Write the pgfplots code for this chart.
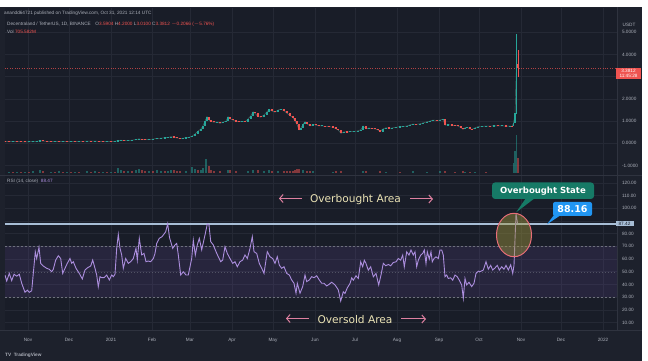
\documentclass[border=0pt]{standalone}
\usepackage{fontspec}
\setmainfont{Liberation Sans}
\newfontfamily\dvs{DejaVu Sans}
\usepackage{pgfplots}
\usepackage{pgfplotstable}
\pgfplotsset{compat=1.18}
\usetikzlibrary{arrows.meta}

\definecolor{bg}{RGB}{25,29,40}
\definecolor{frame}{RGB}{29,33,44}
\definecolor{gridc}{RGB}{37,41,53}
\definecolor{sep}{RGB}{47,51,63}
\definecolor{lbl}{RGB}{170,174,184}
\definecolor{up}{RGB}{38,166,154}
\definecolor{down}{RGB}{239,83,80}
\definecolor{rsiline}{RGB}{172,142,222}
\definecolor{band}{RGB}{126,87,194}
\definecolor{hl}{RGB}{168,190,214}
\definecolor{cream}{RGB}{236,228,182}
\definecolor{pinkarrow}{RGB}{222,128,160}
\definecolor{stateteal}{RGB}{22,122,102}
\definecolor{bluebox}{RGB}{33,150,243}
\definecolor{ellred}{RGB}{232,110,120}
\definecolor{olivefill}{RGB}{160,150,60}
\definecolor{dashc}{RGB}{110,113,125}

\newcommand{\sm}{\fontsize{4.7}{5.3}\selectfont}

\pgfplotstableread{
x o c
5 0.075 0.075
9 0.075 0.070
13 0.070 0.080
17 0.080 0.074
21 0.074 0.070
25 0.070 0.065
29 0.065 0.068
33 0.068 0.075
37 0.075 0.090
40 0.090 0.120
43 0.120 0.100
47 0.100 0.090
51 0.090 0.085
55 0.085 0.092
59 0.092 0.086
63 0.086 0.090
67 0.090 0.084
71 0.084 0.090
75 0.090 0.086
79 0.086 0.092
83 0.092 0.090
87 0.090 0.100
91 0.100 0.095
95 0.095 0.100
99 0.100 0.088
103 0.088 0.085
107 0.085 0.090
111 0.090 0.084
115 0.084 0.090
118 0.090 0.120
121 0.120 0.140
124 0.140 0.120
128 0.120 0.130
132 0.130 0.140
136 0.140 0.170
139 0.170 0.200
142 0.200 0.170
145 0.170 0.165
149 0.165 0.170
153 0.170 0.190
157 0.190 0.220
161 0.220 0.230
165 0.230 0.250
168 0.250 0.260
171 0.260 0.300
174 0.300 0.270
177 0.270 0.240
180 0.240 0.220
183 0.220 0.230
186 0.230 0.250
189 0.250 0.270
192 0.270 0.320
195 0.320 0.420
198 0.420 0.550
201 0.550 0.650
203 0.650 0.800
205 0.800 1.000
207 1.000 1.200
209 1.200 1.050
211 1.050 0.980
214 0.980 0.950
217 0.950 0.960
220 0.960 0.900
223 0.900 0.950
226 0.950 1.000
228 1.000 1.200
230 1.200 1.100
233 1.100 1.050
236 1.050 0.980
239 0.980 0.970
242 0.970 0.990
245 0.990 0.970
248 0.970 1.100
251 1.100 1.250
253 1.250 1.420
255 1.420 1.350
258 1.350 1.200
261 1.200 1.180
264 1.180 1.280
267 1.280 1.420
269 1.420 1.530
272 1.530 1.450
275 1.450 1.400
278 1.400 1.500
281 1.500 1.530
284 1.530 1.470
287 1.470 1.350
290 1.350 1.250
293 1.250 1.150
295 1.150 1.000
297 1.000 0.850
299 0.850 0.600
301 0.600 0.700
303 0.700 0.850
305 0.850 0.970
307 0.970 0.880
310 0.880 0.780
313 0.780 0.850
316 0.850 0.820
319 0.820 0.780
322 0.780 0.790
325 0.790 0.760
329 0.760 0.750
333 0.750 0.720
336 0.720 0.650
338 0.650 0.600
341 0.600 0.450
344 0.450 0.520
347 0.520 0.500
350 0.500 0.530
354 0.530 0.540
358 0.540 0.560
361 0.560 0.620
363 0.620 0.780
366 0.780 0.650
369 0.650 0.690
372 0.690 0.660
375 0.660 0.650
378 0.650 0.600
380 0.600 0.530
383 0.530 0.650
386 0.650 0.700
389 0.700 0.680
392 0.680 0.690
396 0.690 0.720
400 0.720 0.750
403 0.750 0.760
407 0.760 0.780
410 0.780 0.830
413 0.830 0.870
416 0.870 0.850
420 0.850 0.880
423 0.880 0.920
427 0.920 0.970
430 0.970 1.000
433 1.000 1.050
437 1.050 1.030
440 1.030 1.050
443 1.050 1.080
445 1.080 0.820
448 0.820 0.830
452 0.830 0.820
455 0.820 0.800
458 0.800 0.780
461 0.780 0.700
463 0.700 0.630
465 0.630 0.700
467 0.700 0.720
470 0.720 0.650
472 0.650 0.630
475 0.630 0.700
478 0.700 0.750
482 0.750 0.760
486 0.760 0.780
490 0.780 0.770
494 0.770 0.790
498 0.790 0.780
502 0.780 0.790
506 0.790 0.770
510 0.770 0.780
512 0.780 0.760
513.5 0.760 0.900
515 0.900 1.350
516.5 1.350 3.600
518 3.590 3.381
}\price

\pgfplotstableread{
x r
5 47.4
6.7 42.7
9.3 48.7
11.7 43
14 48
16.7 46.5
19.3 48
21.7 40.9
25 33.8
27.3 35.5
29.3 33.8
31.7 35
33.3 48.7
35.3 65.7
36.7 60.4
39 69.2
40.7 56.6
43.3 54.5
46.7 52.7
49.3 51.9
51.7 50
53.3 51.9
55.7 59.2
58.3 62.6
60.7 60.4
62.7 48.7
65 52.7
67.3 56.6
70 60.4
71.7 56.6
73.3 57.9
76 52.7
79.3 48.7
82.3 44.3
85 51.4
87.7 53.2
90.7 54.5
92.7 59.2
95 52.7
96.7 47.4
98.3 38.2
100 46.1
101.7 45.3
104 45.3
106.7 47.4
109.3 43.5
111.7 47.4
113.3 46.1
115 48
116.7 68.4
118.3 79.4
120 68.4
121.7 63.2
123.3 52.7
125.7 60.4
128.3 56.6
130.7 57.9
133.3 60.4
136 68.4
137.3 59.2
139.3 76.3
141.7 63.2
144 64.4
146 57.9
148.3 58.4
150.7 57.9
153.3 60.4
155 64.4
156.7 72.3
159.3 76.3
162 77.6
165.7 81.5
167.7 87.8
169.5 77
172.7 68.4
175 71.1
176.7 72.3
178.3 63.2
180.7 47.4
183.3 50
186 47.4
188.3 47.4
191.7 60.4
193.3 74.9
195.3 63.2
197.3 71.1
199.3 76.3
201.7 67.2
205 78.9
207.3 87.6
209 86.8
210.7 73.7
213.3 71.1
216 65.8
218.3 61.8
220.7 57.9
222.7 59.2
225 69.7
227.3 64.4
230 60.4
232.7 56.6
235 57.9
237.3 53.9
240 57.9
242.7 59.2
245 63.2
247.3 60.4
250 68.4
252.3 77.6
254 65.8
256.7 64.4
259.3 56.6
261.7 52.7
264 48.7
266 59.2
267.3 65.8
270 61.8
272.7 60.4
275 56.6
277.3 61.8
279.3 55.2
281.7 52.7
284 53.9
286.7 48.7
289.3 47.4
291.7 43.5
294 40.9
296 33.1
297.3 40.9
300 33.1
302.7 38.3
305 47.4
306.7 42.2
309.3 43.5
311.7 46.1
314 45.3
316.7 46.8
319.3 43.5
321.7 40.9
324 40.9
326.7 38.8
328.3 39.6
331.7 41.7
335 39.6
338.3 35.7
340.7 26.9
343.3 34.2
345 32.9
347.3 37.3
350 40.7
351.7 45.2
353.3 43.3
356 46.8
358.3 44.7
360.7 57.8
362.7 53.9
364.3 59.1
366 56.5
368.3 51.2
370.7 53.9
373.3 46
376 48.7
378.7 39.6
381 47.4
383.3 56.6
385.7 54.7
388.3 55.7
390.7 54.7
393.3 57.3
396 57.8
398.3 60.4
400.7 59.1
402.7 63.1
404.3 53.9
406.7 65.7
409 63.1
411 67.1
413.3 63.1
415 65.7
416.7 53.9
418.3 59.1
420.7 63.1
422.7 64.4
424.3 67.1
426 56.5
427.3 65.7
429.3 60
431 65.7
432.3 57.8
434 60.4
436 61.7
438.3 60.4
440 67.1
441.7 67.1
443.3 63.1
445 46
446.7 47.4
448.3 44.7
450.7 45.2
452.7 43.3
455 47.4
457.3 46
459.3 43.3
461.7 39.6
463.3 29.1
465 44.7
466.7 39.6
469 41.7
471.7 38.3
474 40.9
476 48.7
478.3 50.5
480 50
483.3 51.3
486 57.9
488.3 52
490.7 55
492.7 51.3
495 53
497.3 55
499.3 51.3
501.7 53.9
504 52
506 55
508.3 51.3
510.7 55.5
512.7 48.7
514 55
516 95.6
517.5 88.2
}\rsi

\begin{document}
\begin{tikzpicture}[x=1pt,y=1pt]
\fill[white] (0,0) rectangle (648,361);
\fill[frame] (0,0) rectangle (642,354);

% ---------- price pane ----------
\begin{axis}[
  at={(5pt,186pt)}, anchor=south west, scale only axis,
  width=612pt, height=167pt,
  xmin=5, xmax=617, ymin=-1.428, ymax=6.095,
  axis background/.style={fill=bg},
  axis line style={draw=none},
  xtick={28,69,111,152,190,232,273,315,355,397,439,479,521,561,603},
  xticklabels={},
  ytick={-1,0,1,2,3,4,5},
  yticklabels={-1.0000,0.0000,1.0000,2.0000,,4.0000,5.0000},
  yticklabel pos=right,
  yticklabel style={font=\sm, text=lbl, anchor=west, xshift=1.5pt},
  major tick length=0pt,
  grid=major, major grid style={draw=gridc, line width=0.5pt},
  colormap={updown}{color(0)=(down) color(1)=(up)},
  point meta min=0, point meta max=1,
]
% red price line
\draw[down, line width=0.45pt, dash pattern=on 0.8pt off 1.6pt, opacity=0.7] (axis cs:5,3.3812) -- (axis cs:617,3.3812);
% thin wick-like line joining the closes
\addplot[up!70!down, line width=0.45pt, opacity=0.7, mark=none] table[x=x, y=c] {\price};
% wicks of the last candles
\addplot[quiver={u=0, v=\thisrow{v}}, draw=up, line width=0.6pt, mark=none]
  table[x=x, y=y] {x y v
516.5 1.30 3.62
};
\addplot[quiver={u=0, v=\thisrow{v}}, draw=down, line width=0.6pt, mark=none]
  table[x=x, y=y] {x y v
518 3.0 1.2
};
% candle bodies, coloured by direction
\addplot[
  quiver={u=0, v={2*max(0.5*abs(\thisrow{c}-\thisrow{o}),0.025)}, colored},
  point meta={\thisrow{c}>\thisrow{o}},
  line width=1.7pt, line cap=butt, mark=none,
] table[x=x, y expr={0.5*(\thisrow{o}+\thisrow{c})-max(0.5*abs(\thisrow{c}-\thisrow{o}),0.025)}] {\price};
\end{axis}

% ---------- volume overlay ----------
\begin{axis}[
  at={(5pt,186pt)}, anchor=south west, scale only axis,
  width=612pt, height=167pt,
  xmin=5, xmax=617, ymin=-2.3, ymax=164.7,
  axis lines=none, ticks=none,
]
\addplot[ycomb, mark=none, line width=1.4pt, draw=up, opacity=0.5] coordinates {
(9,1) (17,1) (25,1) (33,1.2) (40,2.5) (51,1) (59,1.2) (67,1) (75,1) (87,1.5) (95,1.5) (103,1) (111,1)
(118,4.3) (121,3) (128,1.5) (136,2.5) (139,3.3) (149,2) (157,3) (161,2) (168,2) (171,2.5) (186,2)
(192,5.3) (195,4) (201,3) (203,4.3) (206,13.7) (228,3) (248,2) (253,2.5) (264,1.5) (269,2.5) (278,1.5)
(303,2.5) (313,1.5) (333,1) (363,2) (386,1) (413,1.5) (427,1) (440,1.2) (465,1) (475,1)
(513.5,10) (515,22) (516.5,38)};
\addplot[ycomb, mark=none, line width=1.4pt, draw=down, opacity=0.5] coordinates {
(13,1) (21,1) (29,1) (43,1.5) (55,1) (63,1) (71,1) (79,1) (91,1) (99,1) (107,1) (115,1)
(124,2) (132,1.5) (142,2.5) (145,1.5) (153,1.5) (165,1.5) (174,2.5) (177,2) (180,1.5) (198,3)
(209,6.7) (211,3) (214,2) (220,1.5) (230,2.5) (236,1.5) (258,2.5) (272,2) (284,2) (287,1.5) (290,2)
(293,2) (295,3) (297,3.5) (299,4) (307,1.5) (310,1.5) (336,1.2) (341,2) (366,1.5) (380,1.5) (400,1)
(445,2) (455,1) (463,1.5) (470,1) (486,1) (518,15)};
\end{axis}

% ---------- RSI pane ----------
\begin{axis}[
  at={(5pt,31pt)}, anchor=south west, scale only axis,
  width=612pt, height=154pt,
  xmin=5, xmax=617, ymin=4.1, ymax=125.4,
  axis background/.style={fill=bg},
  axis line style={draw=none},
  xtick={28,69,111,152,190,232,273,315,355,397,439,479,521,561,603},
  xticklabels={Nov,Dec,2021,Feb,Mar,Apr,May,Jun,Jul,Aug,Sep,Oct,Nov,Dec,2022},
  xticklabel style={font=\sm, text=lbl, yshift=-4.5pt},
  ytick={10,20,30,40,50,60,70,80,90,100,110,120},
  yticklabels={10.00,20.00,30.00,40.00,50.00,60.00,70.00,80.00,,100.00,110.00,120.00},
  yticklabel pos=right,
  yticklabel style={font=\sm, text=lbl, anchor=west, xshift=1.5pt},
  major tick length=0pt,
  grid=major, major grid style={draw=gridc, line width=0.5pt},
]
\fill[band, opacity=0.14] (axis cs:5,30) rectangle (axis cs:617,70);
\draw[dashc, line width=0.5pt, dash pattern=on 2pt off 2pt] (axis cs:5,70) -- (axis cs:617,70);
\draw[dashc, line width=0.5pt, dash pattern=on 2pt off 2pt] (axis cs:5,30) -- (axis cs:617,30);
\draw[dashc, line width=0.4pt, dash pattern=on 1pt off 2pt, opacity=0.6] (axis cs:5,50) -- (axis cs:617,50);
\draw[hl, line width=1.5pt] (axis cs:5,87.42) -- (axis cs:617,87.42);
\addplot[rsiline, line width=0.9pt, mark=none] table[x=x, y=r] {\rsi};
\end{axis}

% ---------- frame lines ----------
\draw[sep, line width=0.6pt] (617,31) -- (617,354);
\draw[sep, line width=0.6pt] (0,185.5) -- (642,185.5);
\draw[sep, line width=0.6pt] (0,31) -- (642,31);

% ---------- annotations in pixel coordinates ----------
\begin{scope}[shift={(0,361)}, y=-1pt]
\node[anchor=west, font=\sm, text=lbl, inner sep=0] at (4,13.7) {anandd64721 published on TradingView.com, Oct 31, 2021 12:14 UTC};
\node[anchor=west, font=\sm, inner sep=0] at (7,24.3) {\textcolor{lbl}{Decentraland / TetherUS, 1D, BINANCE}\quad
  \textcolor{lbl}{O}\textcolor{down}{3.5904}\ \textcolor{lbl}{H}\textcolor{down}{4.2000}\ \textcolor{lbl}{L}\textcolor{down}{3.0100}\ \textcolor{lbl}{C}\textcolor{down}{3.3812}\ \textcolor{down}{$-$0.2066 ($-$5.76\%)}};
\node[anchor=west, font=\sm, inner sep=0] at (7,31.7) {\textcolor{lbl}{Vol}\ \textcolor{down}{705.582M}};
\node[anchor=west, font=\sm, inner sep=0] at (7,181) {\textcolor{lbl}{RSI (14, close)}\ \ \textcolor{rsiline}{88.47}};
\node[font=\sm, text=lbl, inner sep=0] at (629,24.5) {USDT};
\node[fill=down, text=white, font=\sm, align=center, inner sep=1pt, minimum width=25pt] at (628.5,73.5) {3.3812\\[-0.6pt]11:45:28};
\node[fill=hl, text=bg, font=\sm, minimum width=18pt, inner sep=0.8pt] at (624.5,223.8) {87.42};

% Overbought / Oversold area labels
\node[font=\dvs\fontsize{10.6}{12}\selectfont, text=cream, inner sep=0] at (355.5,199.5) {Overbought Area};
\draw[pinkarrow, line width=1pt, -{Straight Barb[length=3.5pt, width=8pt]}] (302,198.5) -- (279,198.5);
\draw[pinkarrow, line width=1pt, -{Straight Barb[length=3.5pt, width=8pt]}] (410,199) -- (433,199);
\node[font=\dvs\fontsize{10.6}{12}\selectfont, text=cream, inner sep=0] at (355,319.5) {Oversold Area};
\draw[pinkarrow, line width=1pt, -{Straight Barb[length=3.5pt, width=8pt]}] (309,318.5) -- (286,318.5);
\draw[pinkarrow, line width=1pt, -{Straight Barb[length=3.5pt, width=8pt]}] (401,319) -- (426,319);

% ellipse around spike
\draw[draw=ellred, line width=1pt, fill=olivefill, fill opacity=0.45] (514,235) ellipse [x radius=17.5, y radius=21.7];

% callouts
\fill[stateteal] (526,198) -- (535,198) -- (516,212.5) -- cycle;
\node[fill=stateteal, rounded corners=3pt, text=white, font=\dvs\bfseries\fontsize{8.5}{9}\selectfont, minimum width=102pt, minimum height=16.5pt, inner sep=0] at (543,190.7) {Overbought State};
\fill[bluebox] (554,215) -- (561,215) -- (547,224.3) -- cycle;
\node[fill=bluebox, rounded corners=2pt, text=white, font=\dvs\bfseries\fontsize{9.5}{10}\selectfont, minimum width=39pt, minimum height=14pt, inner sep=0] at (572.5,209) {88.16};

% TradingView logo
\node[anchor=west, font=\fontsize{4.7}{5}\selectfont\bfseries, text=lbl, inner sep=0] at (5,355.5) {TV\ \ TradingView};
\end{scope}

\pgfresetboundingbox
\path[use as bounding box] (0,0) rectangle (648,361);
\end{tikzpicture}
\end{document}
